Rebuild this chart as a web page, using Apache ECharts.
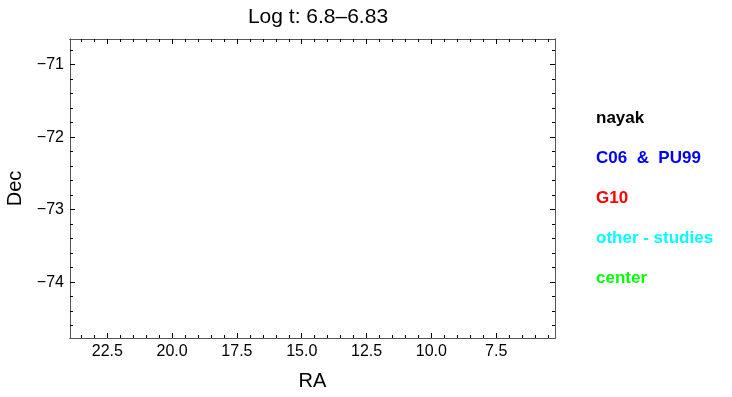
<!DOCTYPE html>
<html>
<head>
<meta charset="utf-8">
<title>Log t: 6.8-6.83</title>
<script src="https://cdn.jsdelivr.net/npm/echarts@6/dist/echarts.min.js"></script>
<style>
  html, body { margin: 0; padding: 0; background: #fff; }
  #chart { width: 732px; height: 397px; }
</style>
</head>
<body>
<div id="chart"></div>
<script>
// no points fall in this age bin, the series are empty
const seriesNames = ['nayak', 'C06  &  PU99', 'G10', 'other - studies', 'center'];
const seriesColors = ['#000000', '#0000ff', '#ff0000', '#00ffff', '#00ff00'];
const seriesData = [[], [], [], [], []];

const raRange = [5.23, 23.94];
const decRange = [-74.77, -70.645];
const raTicks = [7.5, 10.0, 12.5, 15.0, 17.5, 20.0, 22.5];
const decTicks = [-74, -73, -72, -71];

const font = 'Liberation Sans, Arial, sans-serif';

// minor tick positions between the labelled ones
function minorTicks(range, step, majors) {
  const out = [];
  let v = Math.ceil(range[0] / step) * step;
  for (; v <= range[1] + 1e-9; v += step) {
    const r = Math.round(v * 1000) / 1000;
    if (!majors.some(m => Math.abs(m - r) < 1e-6)) out.push(r);
  }
  return out;
}

const raMinor = minorTicks(raRange, 0.5, raTicks);
const decMinor = minorTicks(decRange, 0.2, decTicks);

const lineStyle = { color: '#555555', width: 1 };

function xAxis(position, values, len, labels) {
  return {
    type: 'value',
    position: position,
    min: raRange[0],
    max: raRange[1],
    inverse: true,
    splitLine: { show: false },
    axisLine: { show: true, onZero: false, lineStyle: lineStyle },
    axisTick: { show: true, inside: true, length: len, customValues: values,
      lineStyle: { color: '#000', width: 1 } },
    axisLabel: labels ? {
      show: true, customValues: values, margin: 6,
      fontSize: 16, fontFamily: font, color: '#000',
      formatter: v => v.toFixed(1)
    } : { show: false }
  };
}

function yAxis(position, values, len, labels) {
  return {
    type: 'value',
    position: position,
    min: decRange[0],
    max: decRange[1],
    splitLine: { show: false },
    axisLine: { show: true, onZero: false, lineStyle: lineStyle },
    axisTick: { show: true, inside: true, length: len, customValues: values,
      lineStyle: { color: '#000', width: 1 } },
    axisLabel: labels ? {
      show: true, customValues: values, margin: 6,
      fontSize: 16, fontFamily: font, color: '#000',
      formatter: v => '\u2212' + Math.abs(v)
    } : { show: false }
  };
}

const xAxes = [
  xAxis('bottom', raTicks, 5, true),
  xAxis('bottom', raMinor, 3, false),
  xAxis('top', raTicks, 5, false),
  xAxis('top', raMinor, 3, false)
];
xAxes[0].name = 'RA';
xAxes[0].nameLocation = 'middle';
xAxes[0].nameGap = 33;
xAxes[0].nameTextStyle = { fontSize: 20, fontFamily: font, color: '#000' };

const yAxes = [
  yAxis('left', decTicks, 5, true),
  yAxis('left', decMinor, 3, false),
  yAxis('right', decTicks, 5, false),
  yAxis('right', decMinor, 3, false)
];
yAxes[0].name = 'Dec';
yAxes[0].nameLocation = 'middle';
yAxes[0].nameGap = 44;
yAxes[0].nameTextStyle = { fontSize: 20, fontFamily: font, color: '#000' };

const chart = echarts.init(document.getElementById('chart'), null, { renderer: 'canvas' });

chart.setOption({
  animation: false,
  title: {
    text: 'Log t: 6.8\u20136.83',
    left: 313,
    top: 2,
    textAlign: 'center',
    textStyle: { fontSize: 21, fontWeight: 'normal', fontFamily: font, color: '#000' }
  },
  grid: { left: 70, top: 39, right: 177, bottom: 59, outerBoundsMode: 'none' },
  legend: {
    orient: 'vertical',
    left: 586,
    top: 103,
    icon: 'none',
    itemWidth: 0,
    itemHeight: 20,
    itemGap: 21.5,
    selectedMode: false,
    data: seriesNames.map((n, i) => ({
      name: n,
      textStyle: { color: seriesColors[i], fontSize: 17, fontWeight: 'bold', fontFamily: font }
    }))
  },
  xAxis: xAxes,
  yAxis: yAxes,
  series: seriesNames.map((n, i) => ({
    name: n,
    type: 'scatter',
    symbolSize: 5,
    itemStyle: { color: seriesColors[i] },
    data: seriesData[i]
  }))
});
</script>
</body>
</html>
